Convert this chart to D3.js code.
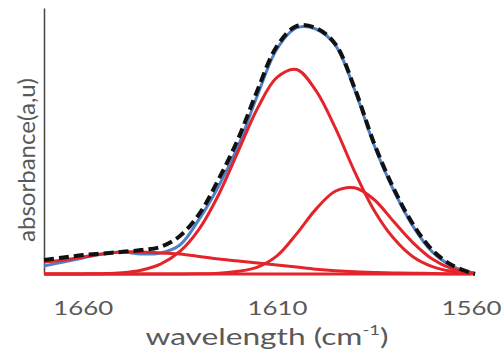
<!DOCTYPE html>
<meta charset="utf-8">
<title>Amide band deconvolution</title>
<style>
body { margin: 0; background: #fff; }
svg { display: block; }
.tick text, .label { font-family: Lato, "Open Sans", sans-serif; fill: #595959; }
.band { fill: none; stroke: #e3242b; stroke-width: 3px; }
.fit { fill: none; stroke: #4f81c7; stroke-width: 3px; }
.measured { fill: none; stroke: #111; stroke-width: 4px; stroke-dasharray: 10,5; }
</style>
<svg width="504" height="360"></svg>
<script src="https://cdn.jsdelivr.net/npm/d3@7"></script>
<script>

// wavenumber grid (cm-1), read every 5 units
var wavenumbers = [1670, 1665, 1660, 1655, 1650, 1645, 1640, 1635, 1630, 1625, 1620, 1615,
                   1610, 1605, 1600, 1595, 1590, 1585, 1580, 1575, 1570, 1565, 1560, 1559];

// measured spectrum (black dashes)
var measured = [0.053, 0.062, 0.071, 0.077, 0.083, 0.090, 0.102, 0.143, 0.226, 0.357, 0.508, 0.692,
                0.857, 0.932, 0.925, 0.865, 0.699, 0.492, 0.323, 0.188, 0.090, 0.034, 0.004, 0];

// sum of fitted bands (blue)
var fitted = [0.030, 0.045, 0.060, 0.075, 0.083, 0.075, 0.079, 0.109, 0.207, 0.331, 0.481, 0.673,
              0.846, 0.925, 0.921, 0.861, 0.692, 0.485, 0.316, 0.180, 0.083, 0.030, 0.004, 0];

// fitted bands (red)
var bandMain = [0, 0, 0.0004, 0.0014, 0.0048, 0.0143, 0.037, 0.085, 0.170, 0.299, 0.461, 0.623,
                0.739, 0.769, 0.690, 0.550, 0.385, 0.240, 0.135, 0.065, 0.028, 0.010, 0.003, 0.002];
var bandLow = [0, 0, 0, 0, 0, 0, 0, 0.0001, 0.0007, 0.003, 0.010, 0.026,
               0.068, 0.150, 0.243, 0.311, 0.324, 0.280, 0.198, 0.118, 0.056, 0.020, 0.006, 0.004];
var bandBroad = [0.045, 0.053, 0.064, 0.075, 0.083, 0.083, 0.079, 0.075, 0.066, 0.056, 0.049, 0.041,
                 0.034, 0.026, 0.018, 0.012, 0.008, 0.006, 0.004, 0.003, 0.002, 0.001, 0.0005, 0];

var xTicks = [1660, 1610, 1560];

var svg = d3.select("svg");

var x = d3.scaleLinear().domain([1670, 1559]).range([44, 475]);
var y = d3.scaleLinear().domain([0, 1]).range([274, 8]);

var line = d3.line()
    .x(function(d, i) { return x(wavenumbers[i]); })
    .y(function(d) { return y(d); })
    .curve(d3.curveCatmullRom);

// y axis: bare line
svg.append("g")
    .attr("transform", "translate(" + x(1670) + ",0)")
    .call(d3.axisLeft(y).tickValues([]).tickSizeOuter(0))
  .select(".domain")
    .attr("stroke", "#444")
    .attr("stroke-width", 1.5);

// x axis: labels only
var xAxis = svg.append("g")
    .attr("transform", "translate(0," + y(0) + ")")
    .call(d3.axisBottom(x).tickValues(xTicks).tickSize(0).tickFormat(d3.format("d")));
xAxis.select(".domain").remove();
xAxis.selectAll("text")
    .attr("y", 41)
    .attr("dy", null)
    .attr("font-size", 19)
    .attr("textLength", 60)
    .attr("lengthAdjust", "spacingAndGlyphs");

// baseline of the bands
svg.append("line")
    .attr("x1", x(1670)).attr("x2", x(1560))
    .attr("y1", y(0)).attr("y2", y(0))
    .attr("stroke", "#e3242b")
    .attr("stroke-width", 3);

svg.append("path").attr("class", "fit").attr("d", line(fitted));

[bandBroad, bandLow, bandMain].forEach(function(b) {
  svg.append("path").attr("class", "band").attr("d", line(b));
});

svg.append("path").attr("class", "measured").attr("d", line(measured));

// titles
var xt = svg.append("text")
    .attr("class", "label")
    .attr("x", 267).attr("y", 345)
    .attr("text-anchor", "middle")
    .attr("font-size", 24)
    .attr("textLength", 243)
    .attr("lengthAdjust", "spacingAndGlyphs");
xt.append("tspan").text("wavelength (cm");
xt.append("tspan").attr("font-size", 14).attr("dy", -10).text("-1");
xt.append("tspan").attr("dy", 10).text(")");

svg.append("text")
    .attr("class", "label")
    .attr("transform", "translate(35,160) rotate(-90) scale(1,1.15)")
    .attr("text-anchor", "middle")
    .attr("font-size", 20)
    .attr("textLength", 164)
    .attr("lengthAdjust", "spacingAndGlyphs")
    .text("absorbance(a,u)");

</script>
